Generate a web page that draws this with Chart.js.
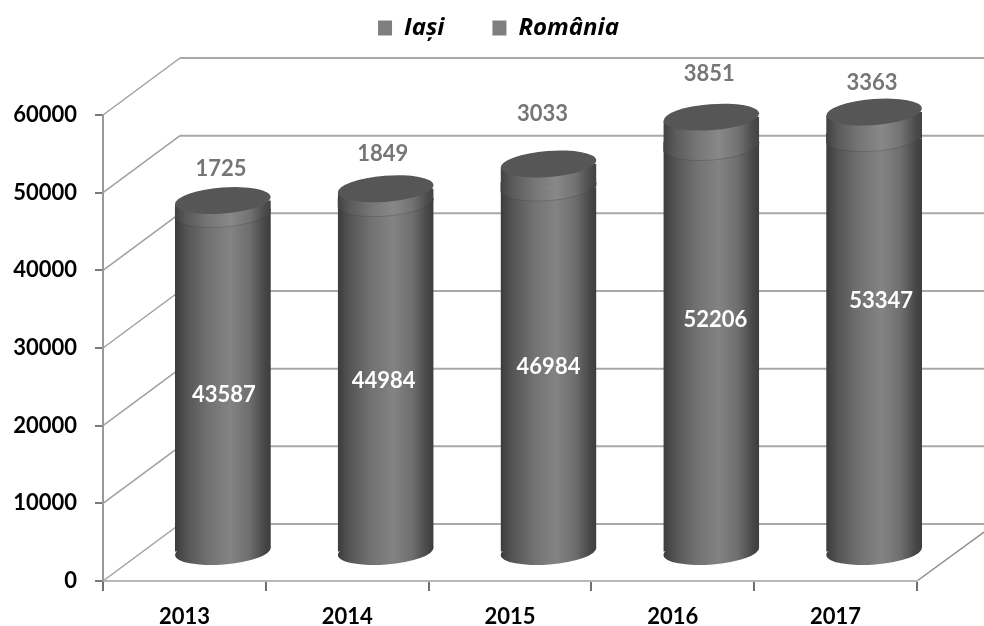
<!DOCTYPE html>
<html>
<head>
<meta charset="utf-8">
<style>html,body{margin:0;padding:0;background:#fff}canvas{display:block}</style>
<script src="https://cdn.jsdelivr.net/npm/chart.js@4/dist/chart.umd.min.js"></script>
</head>
<body>
<canvas id="c" width="984" height="626"></canvas>
<script>
const categories = ['2013', '2014', '2015', '2016', '2017'];
const romania = [43587, 44984, 46984, 52206, 53347];
const iasi = [1725, 1849, 3033, 3851, 3363];
const yMax = 60000;
const yStep = 10000;

// Hand placement of the value labels, as the source chart has them
const iasiLabelNudge = [[-2, -32], [-3, -35], [-6, -50], [-2, -43], [-2, -29]];
const romaniaLabelNudge = [[1, 12], [-2, 4], [0, -3], [4, -29], [7, -44]];

const FONT = 'Lato, sans-serif';
const DEPTH_X = 77, DEPTH_Y = -57;          // wall depth
const BAR_DX = 38.5, BAR_DY = -28.5;        // cylinders stand mid-floor
const RY = 13, TILT = -4.5 * Math.PI / 180;
const BAR_PCT = 0.589;

function barGradient(ctx, x, w, stops) {
  const g = ctx.createLinearGradient(x - w, 0, x + w, 0);
  stops.forEach(s => g.addColorStop(s[0], s[1]));
  return g;
}
const lowerStops = [[0,'#3b3b3b'],[0.12,'#545454'],[0.35,'#727272'],[0.58,'#838383'],[0.78,'#6e6e6e'],[0.93,'#484848'],[1,'#3d3d3d']];
const upperStops = [[0,'#414141'],[0.12,'#5a5a5a'],[0.35,'#767676'],[0.58,'#888888'],[0.78,'#727272'],[0.93,'#4c4c4c'],[1,'#434343']];

function scriptedFill(stops) {
  return c => {
    const x = c.chart.scales.x;
    if (!x || c.dataIndex === undefined) return '#7f7f7f';
    const cx = x.getPixelForValue(c.dataIndex);
    const w = x.width / categories.length * BAR_PCT / 2;
    return barGradient(c.chart.ctx, cx, w, stops);
  };
}

const scene = {
  id: 'scene',
  beforeDraw(chart) {
    const { ctx, scales: { x, y } } = chart;
    const L = x.left, R = x.right, Rim = chart.width;
    ctx.save();
    for (let v = 0; v <= yMax; v += yStep) {
      const py = y.getPixelForValue(v);
      ctx.strokeStyle = '#a0a0a0';
      ctx.lineWidth = 1.5;
      ctx.beginPath();
      ctx.moveTo(L, py);
      ctx.lineTo(L + DEPTH_X, py + DEPTH_Y);
      ctx.stroke();
      ctx.strokeStyle = '#a8a8a8';
      ctx.lineWidth = 2;
      ctx.beginPath();
      ctx.moveTo(L + DEPTH_X, py + DEPTH_Y);
      ctx.lineTo(Rim, py + DEPTH_Y);
      ctx.stroke();
    }
    const y0 = y.getPixelForValue(0);
    ctx.strokeStyle = '#8c8c8c';
    ctx.lineWidth = 1.5;
    ctx.beginPath();
    ctx.moveTo(R, y0);
    ctx.lineTo(Rim, y0 - 49);
    ctx.stroke();
    ctx.restore();
  },
  beforeDatasetsDraw(chart) {
    const { ctx } = chart;
    ctx.save();
    ctx.translate(BAR_DX, BAR_DY);
    const t = Math.tan(TILT);
    const low = chart.getDatasetMeta(1).data;
    const top = chart.getDatasetMeta(0).data;
    // rounded foot of each cylinder
    low.forEach(b => {
      const w = b.width / 2;
      ctx.fillStyle = barGradient(ctx, b.x, w, lowerStops);
      ctx.beginPath();
      ctx.ellipse(b.x, b.base, w, RY, TILT, 0, Math.PI * 2);
      ctx.fill();
    });
    // trim the square bar ends to the tilt of the caps
    ctx.save();
    ctx.beginPath();
    low.forEach((b, i) => {
      const w = b.width / 2, ty = top[i].y;
      ctx.moveTo(b.x - w, ty - w * t);
      ctx.lineTo(b.x + w, ty + w * t);
      ctx.lineTo(b.x + w, b.base + w * t);
      ctx.lineTo(b.x - w, b.base - w * t);
      ctx.closePath();
    });
    ctx.clip();
  },
  afterDatasetsDraw(chart) {
    const { ctx } = chart;
    ctx.restore();
    const t = Math.tan(TILT);
    const low = chart.getDatasetMeta(1).data;
    const top = chart.getDatasetMeta(0).data;
    low.forEach((b, i) => {
      const w = b.width / 2;
      // upper segment wraps down over the lower one
      ctx.fillStyle = barGradient(ctx, b.x, w, upperStops);
      ctx.beginPath();
      ctx.moveTo(b.x - w, b.y - w * t);
      ctx.lineTo(b.x - w, b.y - w * t - 9);
      ctx.lineTo(b.x + w, b.y - w * t - 9);
      ctx.lineTo(b.x + w, b.y + w * t);
      ctx.closePath();
      ctx.fill();
      ctx.beginPath();
      ctx.ellipse(b.x, b.y, w, RY, TILT, 0, Math.PI);
      ctx.fill();
      ctx.strokeStyle = 'rgba(50,50,50,0.25)';
      ctx.lineWidth = 1;
      ctx.stroke();
      // top cap
      ctx.fillStyle = '#565656';
      ctx.beginPath();
      ctx.ellipse(b.x, top[i].y, w, RY, TILT, 0, Math.PI * 2);
      ctx.fill();
    });
    ctx.textAlign = 'center';
    ctx.textBaseline = 'middle';
    ctx.font = '700 22px ' + FONT;
    low.forEach((b, i) => {
      const n = romaniaLabelNudge[i];
      ctx.fillStyle = '#ffffff';
      ctx.fillText(String(romania[i]), b.x + n[0], (b.y + b.base) / 2 + n[1]);
      const m = iasiLabelNudge[i];
      ctx.fillStyle = '#767676';
      ctx.fillText(String(iasi[i]), b.x + m[0], top[i].y + m[1]);
    });
    ctx.restore();
  }
};

const spacer = () => ({
  type: 'linear', display: true,
  grid: { display: false }, border: { display: false }, ticks: { display: false }
});

new Chart(document.getElementById('c'), {
  type: 'bar',
  plugins: [scene],
  data: {
    labels: categories,
    datasets: [
      { label: 'Iași', data: iasi, order: 2, clip: false, backgroundColor: scriptedFill(upperStops) },
      { label: 'România', data: romania, order: 1, clip: false, backgroundColor: scriptedFill(lowerStops) }
    ]
  },
  options: {
    responsive: false,
    animation: false,
    layout: { padding: { left: 13, top: -32, right: 0, bottom: 0 } },
    datasets: { bar: { categoryPercentage: 1, barPercentage: BAR_PCT } },
    plugins: {
      tooltip: { enabled: false },
      legend: {
        position: 'top',
        onClick: null,
        labels: {
          boxWidth: 14, boxHeight: 15, padding: 48, color: '#000',
          font: { family: '"Open Sans", sans-serif', size: 24, weight: '700', style: 'italic' },
          generateLabels: ch => ch.data.datasets.map((d, i) => ({
            text: d.label, fillStyle: '#7f7f7f', strokeStyle: '#7f7f7f', lineWidth: 0, datasetIndex: i, fontColor: '#000'
          }))
        }
      }
    },
    scales: {
      x: {
        stacked: true, offset: true,
        afterFit: s => { s.height = 45; },
        grid: { offset: true, drawOnChartArea: false, color: '#707070', lineWidth: 2, tickLength: 10 },
        border: { color: '#b8b8b8', width: 2 },
        ticks: { color: '#000', padding: 13, maxRotation: 0, font: { family: FONT, size: 22, weight: '700' } }
      },
      y: {
        stacked: true, min: 0, max: yMax,
        afterFit: s => { s.width = 90; },
        grid: { drawOnChartArea: false, color: '#7a7a7a', lineWidth: 2, tickLength: 8 },
        border: { color: '#999999', width: 2 },
        ticks: { stepSize: yStep, color: '#000', padding: 18, callback: v => String(v), font: { family: FONT, size: 22, weight: '700' } }
      },
      topGap: Object.assign(spacer(), { position: 'top', axis: 'x', afterFit: s => { s.height = 65; } }),
      rightGap: Object.assign(spacer(), { position: 'right', axis: 'y', afterFit: s => { s.width = 67; } })
    }
  }
});
</script>
</body>
</html>
